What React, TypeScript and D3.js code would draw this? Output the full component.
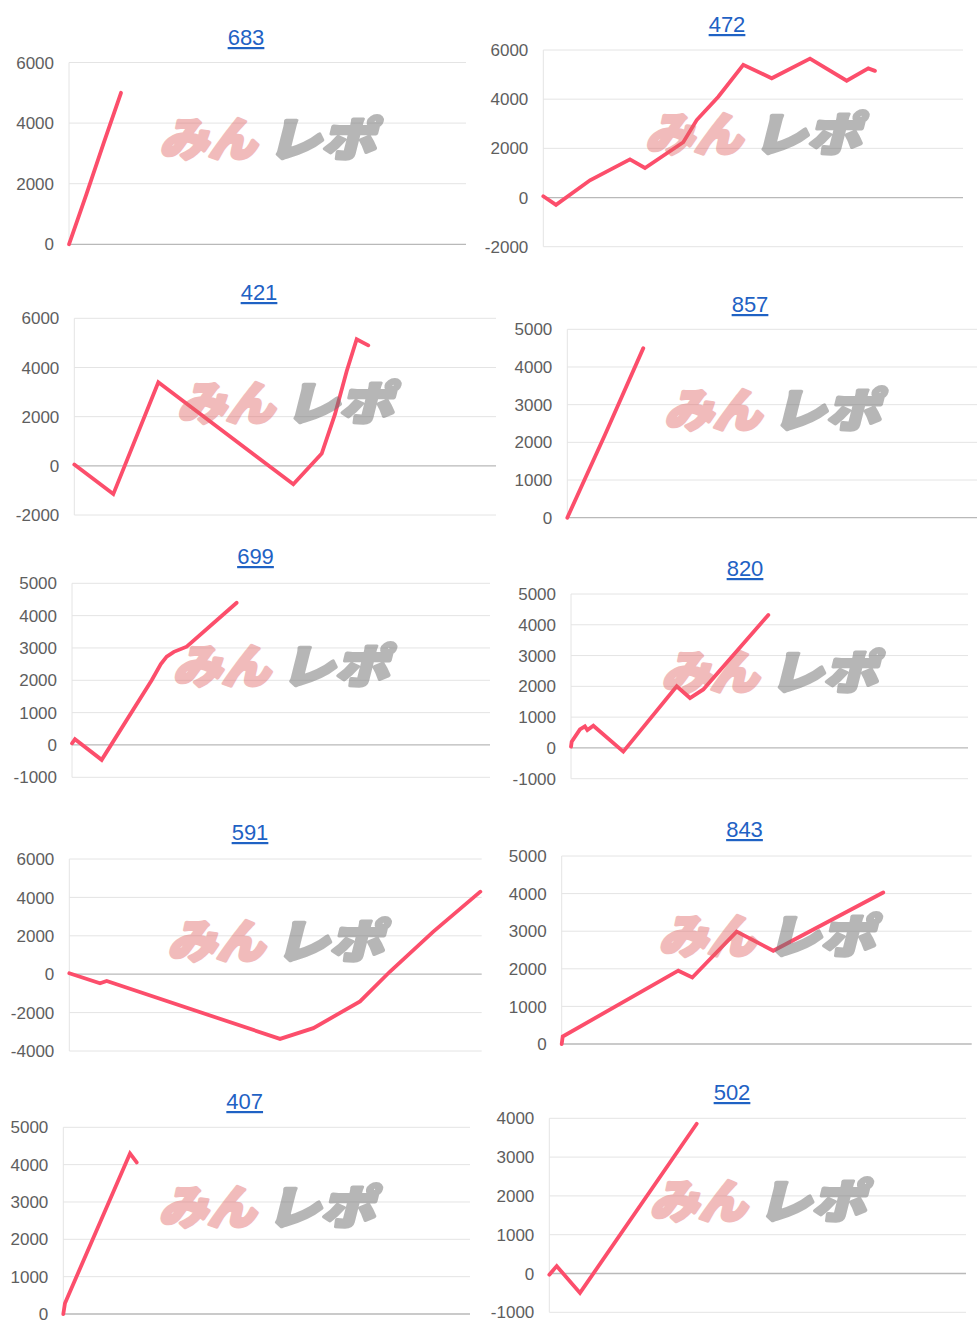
import React from "react";
import * as d3 from "d3";

// ---- data ----
const TITLES = ["683", "472", "421", "857", "699", "820", "591", "843", "407", "502"];

const games683 = [0, 350, 700, 1048];
const diff683 = [0, 1650, 3350, 5000];
const ticks683 = [0, 2000, 4000, 6000];

const games472 = [0, 242, 890, 1652, 1938, 2668, 2924, 3336, 3812, 4354, 5084, 5783, 6195, 6322];
const diff472 = [50, -300, 700, 1550, 1200, 2250, 3150, 4100, 5400, 4850, 5650, 4750, 5250, 5150];
const ticks472 = [-2000, 0, 2000, 4000, 6000];

const games421 = [0, 740, 1594, 4155, 4694, 4946, 5167, 5357, 5577];
const diff421 = [50, -1150, 3400, -750, 500, 2100, 3850, 5150, 4900];
const ticks421 = [-2000, 0, 2000, 4000, 6000];

const games857 = [0, 736, 1484];
const diff857 = [0, 2200, 4500];
const ticks857 = [0, 1000, 2000, 3000, 4000, 5000];

const games699 = [0, 57, 568, 1525, 1700, 1812, 1950, 2195, 3152];
const diff699 = [50, 180, -460, 2000, 2500, 2730, 2880, 3040, 4400];
const ticks699 = [-1000, 0, 1000, 2000, 3000, 4000, 5000];

const games820 = [0, 14, 180, 280, 330, 450, 1054, 2130, 2398, 2666, 3976];
const diff820 = [40, 200, 600, 700, 580, 720, -120, 2000, 1620, 1900, 4320];
const ticks820 = [-1000, 0, 1000, 2000, 3000, 4000, 5000];

const games591 = [0, 596, 726, 4088, 4734, 5640, 6222, 7062, 7974];
const diff591 = [50, -470, -350, -3370, -2810, -1420, 140, 2220, 4300];
const ticks591 = [-4000, -2000, 0, 2000, 4000, 6000];

const games843 = [0, 20, 2275, 2548, 3414, 4128, 6274];
const diff843 = [0, 200, 1950, 1770, 2990, 2480, 4030];
const ticks843 = [0, 1000, 2000, 3000, 4000, 5000];

const games407 = [0, 33, 1312, 1444];
const diff407 = [0, 290, 4300, 4060];
const ticks407 = [0, 1000, 2000, 3000, 4000, 5000];

const games502 = [0, 142, 589, 2830];
const diff502 = [-30, 190, -500, 3860];
const ticks502 = [-1000, 0, 1000, 2000, 3000, 4000];

const GAMES = [games683, games472, games421, games857, games699, games820, games591, games843, games407, games502];
const DIFFS = [diff683, diff472, diff421, diff857, diff699, diff820, diff591, diff843, diff407, diff502];
const TICKS = [ticks683, ticks472, ticks421, ticks857, ticks699, ticks820, ticks591, ticks843, ticks407, ticks502];
const X_MAX = 8000;

// ---- layout (pixels) ----
const LAYOUT = [
  { left: 69, right: 466, top: 62.5, bottom: 244.3, tx: 246, ty: 45 },
  { left: 543.3, right: 963, top: 50, bottom: 246.7, tx: 727, ty: 32 },
  { left: 74.3, right: 496, top: 318.3, bottom: 515, tx: 259, ty: 300 },
  { left: 567.3, right: 977, top: 329.3, bottom: 517.7, tx: 750, ty: 312 },
  { left: 72, right: 490, top: 583.3, bottom: 777.3, tx: 255.5, ty: 564 },
  { left: 571, right: 968, top: 594, bottom: 778.7, tx: 745, ty: 576 },
  { left: 69.3, right: 481.7, top: 859, bottom: 1051, tx: 250, ty: 840 },
  { left: 561.7, right: 971.7, top: 856, bottom: 1044, tx: 744.5, ty: 837 },
  { left: 63.3, right: 470, top: 1127.3, bottom: 1314, tx: 244.7, ty: 1109 },
  { left: 549.3, right: 966, top: 1118.3, bottom: 1312.3, tx: 732, ty: 1100 },
];

const LINE_COLOR = "#fc4e6b";
const GRID = "#e4e4e4";
const ZERO = "#b9b9b9";
const LABEL = "#5e5e5e";
const TITLE = "#1f62c4";
const FONT = "Arial, 'Liberation Sans', Helvetica, sans-serif";
const JP = "'Noto Sans CJK JP', sans-serif";

function Panel({ i }: { i: number }) {
  const L = LAYOUT[i];
  const ticks = TICKS[i];
  const x = d3.scaleLinear().domain([0, X_MAX]).range([L.left, L.right]);
  const y = d3
    .scaleLinear()
    .domain([ticks[0], ticks[ticks.length - 1]])
    .range([L.bottom, L.top]);
  const pts = GAMES[i].map((g, k) => [g, DIFFS[i][k]] as [number, number]);
  const line = d3
    .line<[number, number]>()
    .x((d) => x(d[0]))
    .y((d) => y(d[1]));
  const cx = (L.left + L.right) / 2;
  const cy = (L.top + L.bottom) / 2 - 13;
  return (
    <g>
      <text
        x={L.tx}
        y={L.ty}
        textAnchor="middle"
        fontFamily={FONT}
        fontSize={22}
        fill={TITLE}
        textDecoration="underline"
      >
        {TITLES[i]}
      </text>
      <line x1={L.left} x2={L.left} y1={L.top} y2={L.bottom} stroke={GRID} strokeWidth={1} />
      {ticks.map((t) => (
        <g key={t}>
          <line
            x1={L.left}
            x2={L.right}
            y1={y(t)}
            y2={y(t)}
            stroke={t === 0 ? ZERO : GRID}
            strokeWidth={t === 0 ? 1.3 : 1}
          />
          <text
            x={L.left - 15}
            y={y(t)}
            dy="0.36em"
            textAnchor="end"
            fontFamily={FONT}
            fontSize={17}
            fill={LABEL}
          >
            {t}
          </text>
        </g>
      ))}
      <path
        d={line(pts) || ""}
        fill="none"
        stroke={LINE_COLOR}
        strokeWidth={3.8}
        strokeLinejoin="miter"
        strokeLinecap="round"
      />
      <g transform={`translate(${cx},${cy + 16}) skewX(-14)`}>
        <g opacity={0.42}>
          <text
            x={-108}
            y={0}
            textLength={97}
            lengthAdjust="spacingAndGlyphs"
            fontFamily={JP}
            fontWeight={900}
            fontSize={46}
            fill="#e06060"
            stroke="#e06060"
            strokeWidth={3.5}
            strokeLinejoin="round"
          >
            みん
          </text>
        </g>
        <g opacity={0.5}>
          <text
            x={0}
            y={0}
            textLength={108}
            lengthAdjust="spacingAndGlyphs"
            fontFamily={JP}
            fontWeight={900}
            fontSize={46}
            fill="#707070"
            stroke="#707070"
            strokeWidth={3.5}
            strokeLinejoin="round"
          >
            レポ
          </text>
        </g>
      </g>
    </g>
  );
}

export default function App() {
  return (
    <div style={{ position: "absolute", left: 0, top: 0 }}>
      <svg width={980} height={1335} style={{ display: "block", background: "#fff" }}>
        {LAYOUT.map((_, i) => (
          <Panel key={i} i={i} />
        ))}
      </svg>
    </div>
  );
}
